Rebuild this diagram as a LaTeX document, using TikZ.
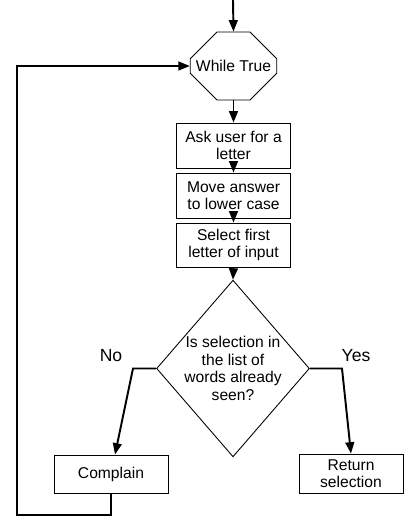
\documentclass[tikz,border=0pt]{standalone}
\usepackage{fontspec}
\setmainfont{Liberation Sans}
\usepackage{tikz}
\usetikzlibrary{arrows,arrows.meta,calc,shapes}
\tikzstyle{step box}=[rectangle,draw=black,line width=0.5pt,align=center,inner sep=1pt]
\tikzstyle{loop}=[chamfered rectangle,draw=black,line width=0.5pt,chamfered rectangle xsep=0.5cm,chamfered rectangle ysep=0.42cm,minimum width=1.68cm,minimum height=1.36cm,inner sep=0pt]
\tikzstyle{choice}=[diamond,draw=black,line width=0.5pt,align=center,aspect=0.865,minimum width=2.96cm,minimum height=3.42cm,inner sep=0pt]
\tikzstyle{line}=[line width=1.1pt,-{Triangle[length=6.5pt,width=5pt]}]
\tikzstyle{answer}=[font=\fontsize{10}{12}\selectfont]

\begin{document}
\begin{tikzpicture}[x=0.02cm,y=-0.02cm,font=\fontsize{8.9}{10}\selectfont]
        \useasboundingbox (0,0) rectangle (409,525);
        \coordinate (start) at (233,0);
        \node at (233.5,66) [loop] (W) {While True};
        \node at (233.5,145.5) [step box,minimum width=2.28cm,minimum height=0.9cm] (A) {Ask user for a\\letter};
        \node at (233.5,195.5) [step box,minimum width=2.28cm,minimum height=0.9cm] (M) {Move answer\\to lower case};
        \node at (233.5,245) [step box,minimum width=2.28cm,minimum height=0.88cm] (S) {Select first\\letter of input};
        \node at (233,368.5) [choice] (Q) {Is selection in\\the list of\\words already\\seen?};
        \node at (111,474) [step box,minimum width=2.28cm,minimum height=0.76cm] (C) {Complain};
        \node at (351,473.5) [step box,minimum width=2.08cm,minimum height=0.78cm] (R) {Return\\selection};
        \node at (111,356) [answer] (no) {No};
        \node at (356,356) [answer] (yes) {Yes};
        \coordinate (nobend) at (133,368.5);
        \coordinate (yesbend) at (342,368.5);
        \coordinate (lowleft) at (17,515);
        \draw [line] (start) to (W.north);
        \draw [line] (W.south) to (A.north);
        \draw [line] (A.south) to (M.north);
        \draw [line] (M.south) to (S.north);
        \draw [line] (S.south) to (Q.north);
        \draw [line] (Q.west) -- (nobend) -- ($(C.north)+(4,0)$);
        \draw [line] (Q.east) -- (yesbend) -- (R.north);
        \draw [line] (C.south) |- (lowleft) |- (W.west);
      \end{tikzpicture}
\end{document}
